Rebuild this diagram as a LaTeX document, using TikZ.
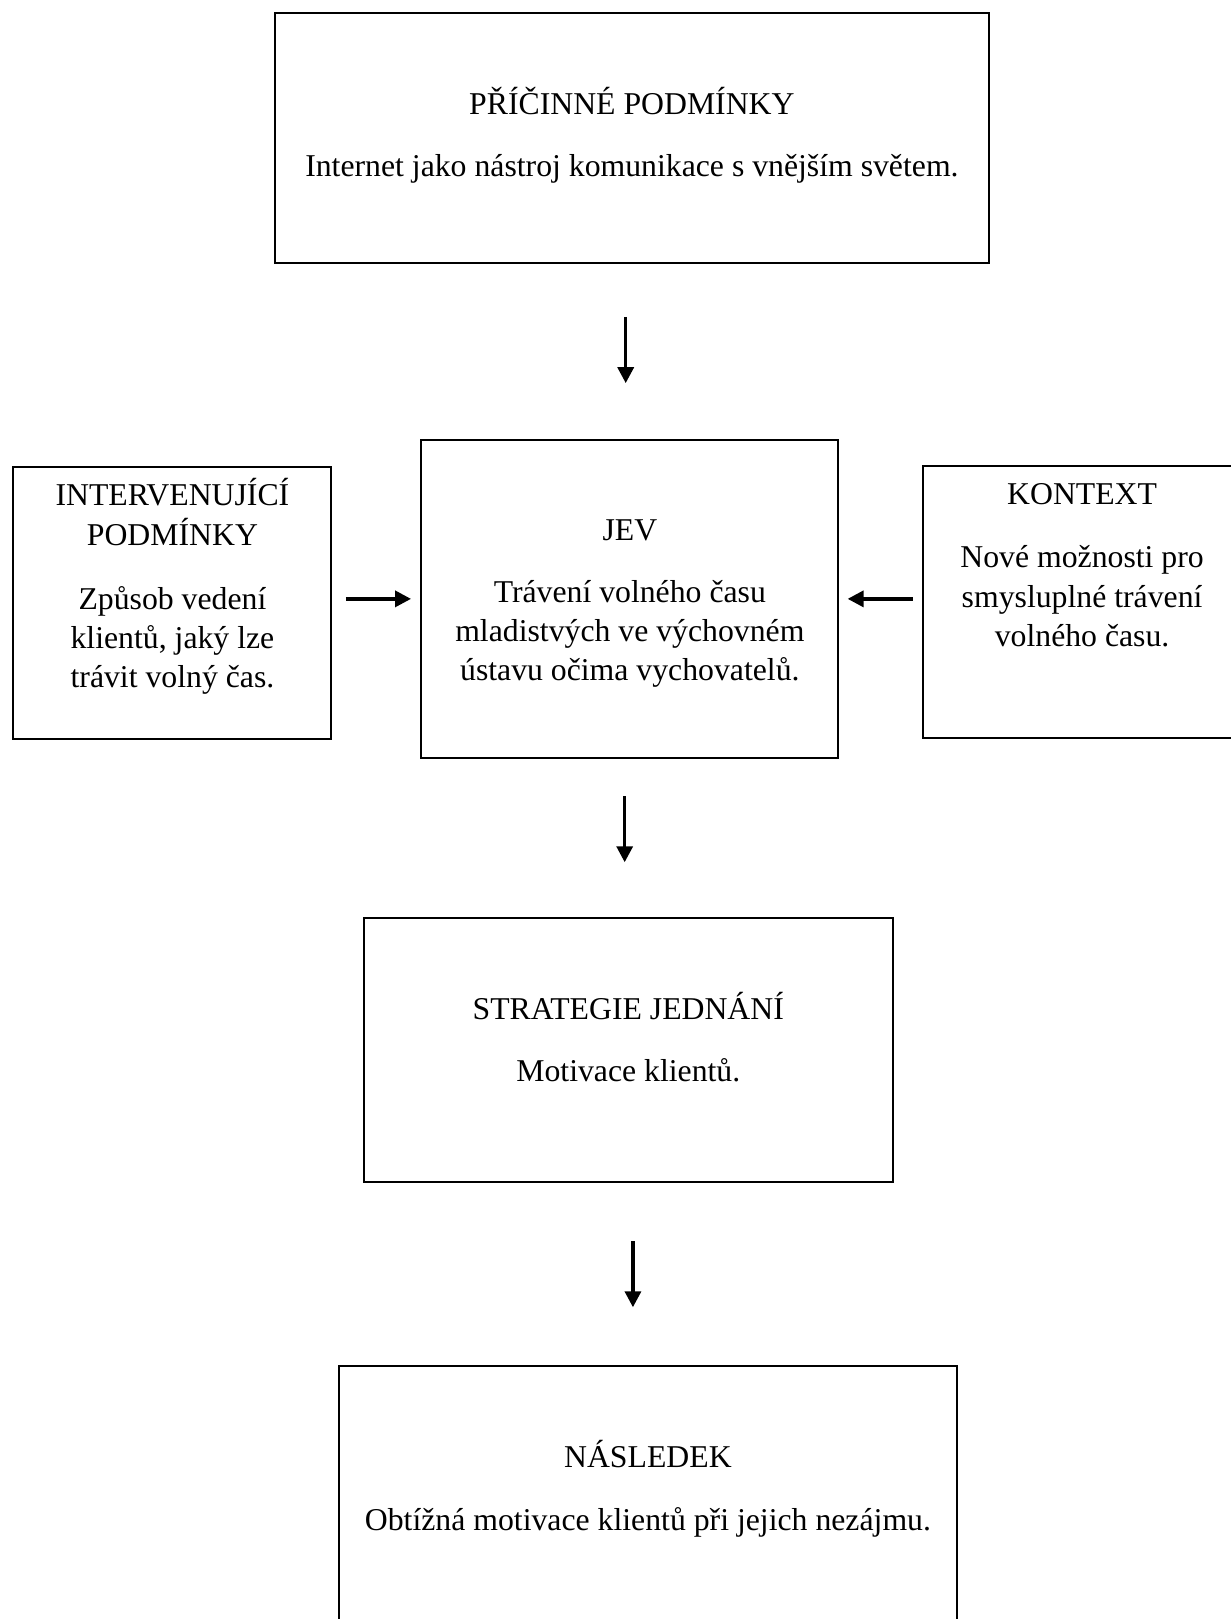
\documentclass[tikz,border=0pt]{standalone}
\usepackage{fontspec}
\setmainfont{Liberation Serif}
\usetikzlibrary{arrows.meta}
\begin{document}
\begin{tikzpicture}[x=0.02cm,y=-0.02cm,
  box/.style={draw,line width=1.1pt,inner sep=0pt},
  txt/.style={font=\fontsize{17.5}{21.6}\selectfont,align=center,anchor=base,inner sep=0pt},
  arr/.style={-{Triangle[length=8.8pt,width=8.8pt]},line width=1.9pt}]
\useasboundingbox (0,0) rectangle (1192,1568);
% boxes
\node [box,minimum width=13.84cm,minimum height=4.84cm] (pricina) at (612,134) {};
\node [box,minimum width=6.16cm,minimum height=5.28cm] (interv) at (167,584) {};
\node [box,minimum width=8.08cm,minimum height=6.16cm] (jev) at (610,580) {};
\node [box,minimum width=6.16cm,minimum height=5.28cm] (kontext) at (1048,583) {};
\node [box,minimum width=10.26cm,minimum height=5.12cm] (strategie) at (608.5,1017) {};
\node [box,minimum width=11.98cm,minimum height=5.6cm] (nasledek) at (627.5,1463) {};
% texts (base = last line)
\node [txt] (pricina-t) at (612,111) {PŘÍČINNÉ PODMÍNKY};
\node [txt] (pricina-b) at (612,171) {Internet jako nástroj komunikace s vnějším světem.};
\node [txt] (interv-t) at (167,528) {INTERVENUJÍCÍ\\PODMÍNKY};
\node [txt] (interv-b) at (167,666) {Způsob vedení\\klientů, jaký lze\\trávit volný čas.};
\node [txt] (jev-t) at (610,523) {JEV};
\node [txt] (jev-b) at (610,659) {Trávení volného času\\mladistvých ve výchovném\\ústavu očima vychovatelů.};
\node [txt] (kontext-t) at (1048,489) {KONTEXT};
\node [txt] (kontext-b) at (1048,626) {Nové možnosti pro\\smysluplné trávení\\volného času.};
\node [txt] (strategie-t) at (608.5,987) {STRATEGIE JEDNÁNÍ};
\node [txt] (strategie-b) at (608.5,1047) {Motivace klientů.};
\node [txt] (nasledek-t) at (627.5,1421) {NÁSLEDEK};
\node [txt] (nasledek-b) at (627.5,1482) {Obtížná motivace klientů při jejich nezájmu.};
% arrows
\draw [arr,shorten <=1.02cm,shorten >=1.08cm] ([xshift=-0.08cm]pricina.south -| jev.north) -- ([xshift=-0.08cm]jev.north);
\draw [arr,shorten <=0.26cm,shorten >=0.18cm] (jev.west -| interv.east) -- (jev.west);
\draw [arr,shorten <=0.18cm,shorten >=0.16cm] (jev.east -| kontext.west) -- (jev.east);
\draw [arr,shorten <=0.72cm,shorten >=1.06cm] ([xshift=-0.1cm]jev.south) -- ([xshift=-0.1cm]jev.south |- strategie.north);
\draw [arr,shorten <=1.12cm,shorten >=1.12cm] ([xshift=0.09cm]strategie.south) -- ([xshift=0.09cm]strategie.south |- nasledek.north);
\end{tikzpicture}
\end{document}
